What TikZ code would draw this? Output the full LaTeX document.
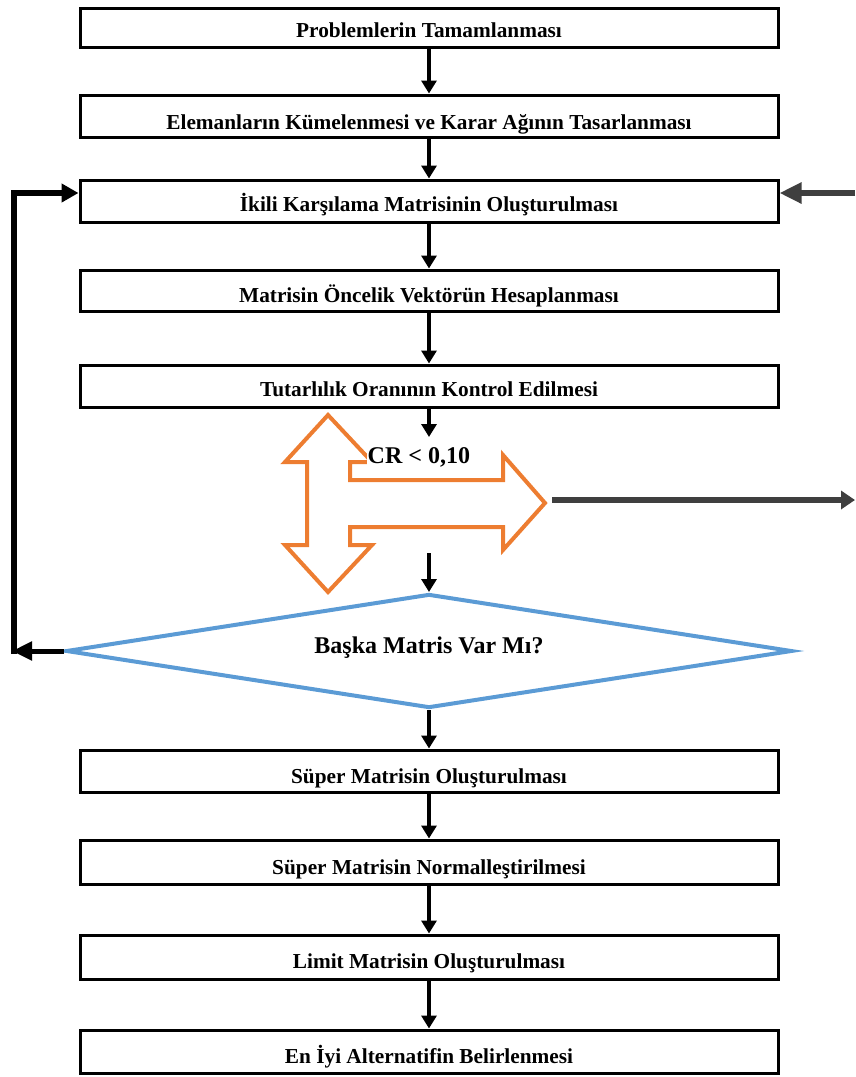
\documentclass[tikz,border=0pt]{standalone}
\usepackage{fontspec}
\setmainfont{Liberation Serif}
\usetikzlibrary{arrows.meta,shapes.geometric,calc}
\definecolor{orng}{HTML}{ED7D31}
\definecolor{blu}{HTML}{5B9BD5}
\definecolor{dgray}{HTML}{3F3F3F}
\tikzset{
  stepbox/.style={draw=black, line width=3pt, fill=white, minimum width=698pt,
    inner sep=0pt, text depth=0pt, font=\fontsize{21.3}{21.3}\selectfont\bfseries},
  flow/.style={line width=3.5pt, -{Triangle[length=13pt,width=15pt]}},
  loopline/.style={line width=6pt, line join=miter, -{Triangle[length=17pt,width=18pt]}},
  grayline/.style={dgray, line width=6pt, -{Triangle[length=20pt,width=20pt]}},
  decision/.style={draw=blu, line width=4pt, shape=diamond, shape aspect=6.37,
    minimum width=726pt, minimum height=114pt, inner sep=0pt, text depth=0pt,
    text height=4pt, font=\fontsize{24}{24}\selectfont\bfseries},
}
\begin{document}
\begin{tikzpicture}[x=1pt,y=-1pt]
\useasboundingbox (0,0) rectangle (855,1077);
% boxes
\node[stepbox, minimum height=39pt, text height=19pt] (b1) at (429,27.5) {Problemlerin Tamamlanması};
\node[stepbox, minimum height=42pt, text height=26pt] (b2) at (429,116) {Elemanların Kümelenmesi ve Karar Ağının Tasarlanması};
\node[stepbox, minimum height=42pt, text height=20pt] (b3) at (429,201) {İkili Karşılama Matrisinin Oluşturulması};
\node[stepbox, minimum height=41pt, text height=23pt] (b4) at (429,290.5) {Matrisin Öncelik Vektörün Hesaplanması};
\node[stepbox, minimum height=42pt, text height=20pt] (b5) at (429,386) {Tutarlılık Oranının Kontrol Edilmesi};
\node[stepbox, minimum height=42pt, text height=24pt] (b6) at (429,771) {Süper Matrisin Oluşturulması};
\node[stepbox, minimum height=44pt, text height=24pt] (b7) at (429,862) {Süper Matrisin Normalleştirilmesi};
\node[stepbox, minimum height=44pt, text height=22pt] (b8) at (429,957) {Limit Matrisin Oluşturulması};
\node[stepbox, minimum height=43pt, text height=23pt] (b9) at (429,1051.5) {En İyi Alternatifin Belirlenmesi};
% decision
\node[decision] (dm) at (429,651) {Başka Matris Var Mı?};
% orange arrow shape
\draw[orng, line width=4pt, line join=miter]
  (328,415) -- (372,462) -- (350,462) -- (350,480) -- (503,480) -- (503,455)
  -- (545,503) -- (503,550) -- (503,527) -- (350,527) -- (350,545) -- (372,545)
  -- (328,592) -- (285,545) -- (307,545) -- (307,462) -- (285,462) -- cycle;
\node[anchor=base west, fill=white, inner sep=0.5pt, font=\fontsize{24}{24}\selectfont\bfseries] (cr) at (367,463) {CR < 0,10};
\coordinate (oin) at (429,437);
\coordinate (oout) at (429,553);
\coordinate (oright) at (552,500);
\coordinate (rend) at (855,500);
\coordinate (rstart) at (855,193);
\coordinate (lc) at (12,651);
\coordinate (lv) at (14,651);
% vertical flow arrows
\draw[flow] (b1.south) -- (b2.north);
\draw[flow] (b2.south) -- (b3.north);
\draw[flow] (b3.south) -- (b4.north);
\draw[flow] (b4.south) -- (b5.north);
\draw[flow] (b5.south) -- (oin);
\draw[flow] (oout) -- (dm.north);
\draw[flow] (dm.south) -- (b6.north);
\draw[flow] (b6.south) -- (b7.north);
\draw[flow] (b7.south) -- (b8.north);
\draw[flow] (b8.south) -- (b9.north);
% left loop
\draw[line width=5pt, -{Triangle[length=20pt,width=18pt]}] (dm.west) -- (lc);
\draw[loopline] ($(lv)+(0,3)$) |- ($(b3.west)+(0,-8)$);
% right gray arrows
\draw[grayline, -{Triangle[length=14pt,width=18pt]}] (oright) -- (rend);
\draw[grayline, -{Triangle[length=22pt,width=20pt]}] (rstart) -- ($(b3.east)+(0,-8)$);
\end{tikzpicture}
\end{document}
